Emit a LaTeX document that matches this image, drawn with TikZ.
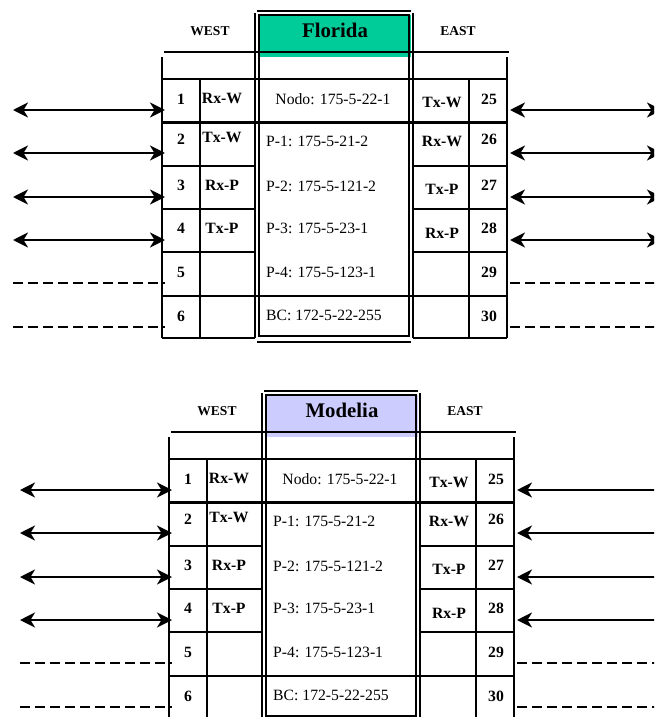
\documentclass[tikz,border=0pt]{standalone}
\usepackage{fontspec}
\setmainfont{Liberation Serif}
\usetikzlibrary{arrows.meta}
\definecolor{floridagreen}{RGB}{0,204,153}
\definecolor{modeliablue}{RGB}{204,204,255}

\tikzset{
  gridline/.style={line width=2.4pt},
  frameline/.style={line width=1.8pt},
  cell/.style={font=\bfseries\fontsize{15.7}{18}\selectfont, inner sep=0pt},
  addr/.style={font=\fontsize{15.7}{18}\selectfont, inner sep=0pt},
  sidehead/.style={font=\bfseries\fontsize{13.5}{16}\selectfont, inner sep=0pt},
  panelname/.style={font=\bfseries\fontsize{20.8}{24}\selectfont, inner sep=0pt},
  link/.style={line width=2.3pt, {Stealth[length=15pt,width=15pt,inset=4.5pt]}-{Stealth[length=15pt,width=15pt,inset=4.5pt]}},
  feed/.style={line width=2.3pt, {Stealth[length=15pt,width=15pt,inset=4.5pt]}-},
  spare/.style={line width=2.3pt, dash pattern=on 10pt off 5pt},
}

% One patch panel: #1 name prefix, #2 shift, #3 title, #4 title fill,
% #5 style of the east-side links
\newcommand\portpanel[5]{%
\begin{scope}[shift={(#2)}]
  % title band
  \fill[#4] (258,15) rectangle (411,57);
  \node[panelname] (#1-title) at (335,30) {#3};
  \node[sidehead] (#1-west) at (210,31) {WEST};
  \node[sidehead] (#1-east) at (458,31) {EAST};
  % double frame of the centre column
  \draw[frameline] (257,11) -- (411,11);
  \draw[frameline] (257,342) -- (411,342);
  \draw[frameline] (255,13) -- (255,338);
  \draw[frameline] (413,13) -- (413,338);
  \draw[frameline] (259,15) rectangle (409,336);
  % grid
  \draw[gridline] (164,52) -- (509,52);
  \draw[gridline] (162,57) -- (162,338);
  \draw[gridline] (507,57) -- (507,338);
  \draw[gridline] (200,79) -- (200,338);
  \draw[gridline] (469,79) -- (469,338);
  \foreach \y in {79,122.5,296}
    \draw[gridline] (162,\y) -- (507,\y);
  \foreach \y in {166,209,252,338} {
    \draw[gridline] (162,\y) -- (255,\y);
    \draw[gridline] (413,\y) -- (507,\y);
  }
  % west ports
  \foreach \i/\y/\n in {1/99/1,2/139/2,3/185/3,4/228/4,5/272/5,6/316/6}
    \node[cell] (#1-wn\i) at (181,\y) {\n};
  \foreach \i/\y/\t in {1/98/Rx-W,2/137/Tx-W,3/185/Rx-P,4/228/Tx-P}
    \node[cell] (#1-wl\i) at (222,\y) {\t};
  % east ports
  \foreach \i/\y/\n in {1/99/25,2/139/26,3/185/27,4/228/28,5/272/29,6/316/30}
    \node[cell] (#1-en\i) at (489,\y) {\n};
  \foreach \i/\y/\t in {1/102.5/Tx-W,2/141/Rx-W,3/189/Tx-P,4/233/Rx-P}
    \node[cell] (#1-el\i) at (442,\y) {\t};
  % addresses
  \node[addr] (#1-node) at (333,99) {Nodo: 175-5-22-1};
  \foreach \i/\y/\t in {1/141/P-1: 175-5-21-2,2/186/P-2: 175-5-121-2,
                        3/228/P-3: 175-5-23-1,4/272/P-4: 175-5-123-1,
                        5/315/BC: 172-5-22-255}
    \node[addr, anchor=west] (#1-ad\i) at (266,\y) {\t};
  % links on both sides
  \foreach \i/\y in {1/110,2/153,3/197,4/240} {
    \coordinate (#1-wo\i) at (13,\y);
    \coordinate (#1-wi\i) at (165,\y);
    \coordinate (#1-ei\i) at (510,\y);
    \coordinate (#1-eo\i) at (662,\y);
    \draw[link] (#1-wo\i) -- (#1-wi\i);
    \draw[#5] (#1-ei\i) -- (#1-eo\i);
  }
  \foreach \i/\y in {5/283,6/327} {
    \coordinate (#1-wo\i) at (13,\y);
    \coordinate (#1-wi\i) at (165,\y);
    \coordinate (#1-ei\i) at (510,\y);
    \coordinate (#1-eo\i) at (662,\y);
    \draw[spare] (#1-wo\i) -- (#1-wi\i);
    \draw[spare] (#1-ei\i) -- (#1-eo\i);
  }
\end{scope}}

\begin{document}
\begin{tikzpicture}[x=1pt,y=-1pt]
  \useasboundingbox (0,0) rectangle (654,717);
  \clip (0,0) rectangle (654,717);
  \portpanel{fl}{0,0}{Florida}{floridagreen}{link}
  \portpanel{mo}{7,380}{Modelia}{modeliablue}{feed}
\end{tikzpicture}
\end{document}
